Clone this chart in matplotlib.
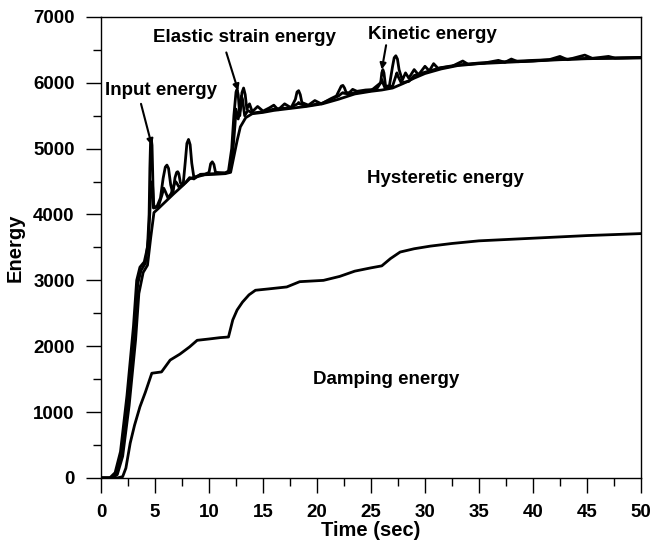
import numpy as np
import matplotlib.pyplot as plt
from matplotlib.ticker import MultipleLocator

plt.rcParams['font.family'] = ['Liberation Sans', 'DejaVu Sans']
plt.rcParams['font.weight'] = 'bold'

# damping energy (cumulative)
t_damp = [0, 1.5, 2.0, 2.3, 2.7, 3.1, 3.6, 4.1, 4.7, 5.6, 6.4, 7.3, 8.2, 8.9, 10.0, 11.0, 11.8,
          12.2, 12.6, 13.1, 13.7, 14.3, 15.5, 17.2, 18.4, 20.6, 22.1, 23.5, 25.0, 26.0, 26.8,
          27.7, 29.0, 30.5, 32.5, 35.0, 37.5, 40.0, 42.5, 45.0, 47.5, 50.0]
e_damp = [0, 0, 20, 150, 530, 800, 1080, 1300, 1590, 1610, 1790, 1880, 1990, 2090, 2110, 2130, 2140,
          2400, 2550, 2670, 2780, 2850, 2870, 2900, 2980, 3000, 3060, 3140, 3190, 3220, 3330,
          3430, 3480, 3520, 3560, 3600, 3620, 3640, 3660, 3680, 3695, 3710]

# damping + hysteretic energy
t_hyst = [0, 1.0, 1.5, 2.0, 2.6, 3.2, 3.5, 3.9, 4.3, 4.6, 4.9, 5.3, 6.0, 6.7, 7.5, 8.2, 9.2,
          10.5, 11.5, 12.0, 12.3, 12.6, 12.9, 13.4, 14.0, 15.0, 16.0, 17.5, 19.0, 20.5, 22.0,
          23.5, 25.0, 26.0, 27.0, 28.0, 29.0, 30.0, 31.5, 33.0, 35.0, 37.5, 40.0, 42.5, 45.0,
          47.5, 50.0]
e_hyst = [0, 0, 50, 330, 1100, 2100, 2800, 3120, 3230, 3650, 4030, 4090, 4200, 4310, 4430, 4540, 4600,
          4610, 4620, 4640, 4880, 5120, 5330, 5470, 5530, 5550, 5580, 5610, 5640, 5680, 5750,
          5830, 5870, 5890, 5920, 5990, 6070, 6140, 6210, 6260, 6290, 6310, 6330, 6350, 6365,
          6372, 6378]

# damping + hysteretic + elastic strain energy
t_elas = [0, 0.9, 1.4, 1.9, 2.5, 3.1, 3.4, 3.7, 4.1, 4.4, 4.6, 4.75, 4.9, 5.3, 5.65, 5.8, 5.95,
          6.2, 6.5, 6.8, 6.9, 7.0, 7.2, 7.8, 8.2, 8.6, 9.2, 10.5, 11.5, 11.9, 12.2, 12.4, 12.5,
          12.7, 12.9, 13.0, 13.1, 13.3, 13.6, 14.0, 15.0, 16.0, 17.5, 18.2, 18.3, 18.4, 19.0,
          20.5, 22.0, 22.3, 22.4, 22.5, 23.0, 23.5, 25.0, 25.9, 26.0, 26.1, 26.3, 27.0, 27.3,
          27.4, 27.5, 27.8, 28.5, 29.0, 30.0, 31.5, 33.0, 35.0, 40.0, 45.0, 50.0]
e_elas = [0, 0, 70, 380, 1200, 2250, 2950, 3150, 3260, 3650, 4300, 4500, 4100, 4120, 4300, 4400, 4350,
          4250, 4320, 4470, 4500, 4480, 4420, 4480, 4560, 4540, 4610, 4620, 4630, 4650, 4950, 5350, 5600,
          5450, 5600, 5800, 5750, 5500, 5580, 5540, 5560, 5600, 5620, 5680, 5700, 5680, 5650,
          5690, 5800, 5840, 5850, 5840, 5830, 5850, 5880, 6000, 6050, 6000, 5920, 5950, 6100,
          6150, 6100, 6000, 6020, 6110, 6160, 6230, 6270, 6300, 6340, 6370, 6380]

# input energy
t_inp = [0, 0.8, 1.3, 1.8, 2.4, 3.0, 3.3, 3.6, 4.0, 4.3, 4.45, 4.52, 4.58, 4.65, 4.72, 4.78,
         4.85, 5.2, 5.5, 5.75, 5.95, 6.1, 6.25, 6.45, 6.65, 6.85, 7.0, 7.1, 7.2, 7.35, 7.6,
         7.8, 7.95, 8.1, 8.25, 8.4, 8.6, 9.5, 10.0, 10.15, 10.3, 10.45, 10.6, 11.5, 11.8, 12.1,
         12.3, 12.5, 12.6, 12.7, 12.85, 13.05, 13.2, 13.35, 13.5, 13.75, 14.0, 14.5, 15.0,
         15.6, 16.0, 16.4, 17.0, 17.6, 18.0, 18.15, 18.3, 18.45, 18.6, 19.2, 19.8, 20.4, 21.3,
         21.8, 22.1, 22.25, 22.4, 22.55, 22.7, 23.0, 23.3, 23.7, 24.5, 25.5, 25.9, 26.0, 26.1,
         26.2, 26.35, 26.7, 27.0, 27.15, 27.3, 27.45, 27.6, 27.9, 28.2, 28.5, 29.0, 29.4, 30.0,
         30.4, 30.8, 31.2, 32.5, 33.5, 34.0, 35.5, 36.8, 37.4, 38.0, 38.6, 40.0, 41.5, 42.5,
         43.2, 44.8, 45.5, 47.0, 47.6, 50.0]
e_inp = [0, 0, 80, 400, 1250, 2300, 3000, 3200, 3280, 3500, 4000, 4700, 5080, 5150, 5050, 4650,
         4100, 4130, 4250, 4550, 4720, 4750, 4700, 4450, 4320, 4560, 4640, 4650, 4620, 4480, 4450,
         4800, 5080, 5140, 5060, 4780, 4560, 4600, 4640, 4770, 4800, 4760, 4640, 4630, 4660, 5000,
         5500, 5860, 5900, 5820, 5500, 5850, 5920, 5820, 5600, 5680, 5560, 5640, 5570,
         5620, 5660, 5590, 5680, 5620, 5750, 5860, 5880, 5820, 5700, 5660, 5730, 5680, 5760,
         5800, 5900, 5950, 5960, 5920, 5850, 5850, 5900, 5870, 5890, 5900, 6000, 6150, 6200,
         6150, 5950, 5950, 6250, 6380, 6410, 6360, 6200, 6040, 6150, 6070, 6200, 6120, 6250,
         6180, 6290, 6220, 6250, 6330, 6280, 6300, 6340, 6310, 6360, 6320, 6330, 6350, 6400,
         6350, 6420, 6370, 6400, 6375, 6385]

fig = plt.figure(figsize=(6.52, 5.45), dpi=100)
ax = fig.add_axes([0.155, 0.123, 0.828, 0.846])

for t, e in [(t_damp, e_damp), (t_hyst, e_hyst), (t_elas, e_elas), (t_inp, e_inp)]:
    ax.plot(t, e, color='black', lw=2)

ax.set_xlim(0, 50)
ax.set_ylim(0, 7000)
ax.xaxis.set_major_locator(MultipleLocator(5))
ax.xaxis.set_minor_locator(MultipleLocator(2.5))
ax.yaxis.set_major_locator(MultipleLocator(1000))
ax.yaxis.set_minor_locator(MultipleLocator(500))
ax.tick_params(which='major', direction='out', length=11, width=1, labelsize=13.5, pad=8)
ax.tick_params(which='minor', direction='out', length=6, width=1)
for s in ax.spines.values():
    s.set_linewidth(1)

ax.set_xlabel('Time (sec)', fontsize=14.5, fontweight='bold', labelpad=0)
ax.set_ylabel('Energy', fontsize=14.5, fontweight='bold', labelpad=6)

arrow = dict(arrowstyle='-|>', color='black', lw=1.5, mutation_scale=9, shrinkA=0, shrinkB=0)
fs = 13.5
ax.text(0.4, 5890, 'Input energy', fontsize=fs, fontweight='bold', va='center', ha='left')
ax.annotate('', xy=(4.7, 5050), xytext=(3.7, 5680), arrowprops=arrow)
ax.text(4.8, 6680, 'Elastic strain energy', fontsize=fs, fontweight='bold', va='center', ha='left')
ax.annotate('', xy=(12.7, 5880), xytext=(11.6, 6460), arrowprops=arrow)
ax.text(24.7, 6740, 'Kinetic energy', fontsize=fs, fontweight='bold', va='center', ha='left')
ax.annotate('', xy=(26.0, 6200), xytext=(26.4, 6570), arrowprops=arrow)

ax.text(31.9, 4550, 'Hysteretic energy', fontsize=fs, fontweight='bold', ha='center', va='center')
ax.text(26.4, 1500, 'Damping energy', fontsize=fs, fontweight='bold', ha='center', va='center')

fig.savefig('out.png', dpi=100)
